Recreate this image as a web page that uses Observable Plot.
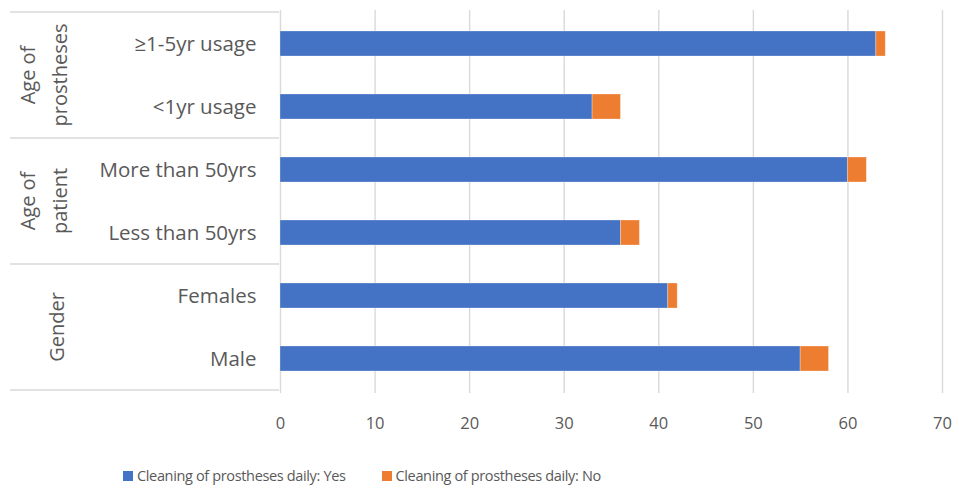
<!DOCTYPE html>
<html>
<head>
<meta charset="utf-8">
<script src="https://cdn.jsdelivr.net/npm/d3@7"></script>
<script src="https://cdn.jsdelivr.net/npm/@observablehq/plot@0.6"></script>
<style>
  body { margin: 0; background: #fff; font-family: "Open Sans", sans-serif; }
  #wrap { position: relative; width: 959px; height: 493px; }
  #legend { position: absolute; left: 123px; top: 466px; display: flex; align-items: center; font-family: "Open Sans", sans-serif; font-size: 14.5px; letter-spacing: -0.35px; color: #595959; white-space: nowrap; }
  .sw { display: inline-block; width: 10px; height: 10px; margin-right: 4px; }
  .item { display: flex; align-items: center; }
</style>
</head>
<body>
<div id="wrap"></div>
<script>
const categories = ["≥1-5yr usage", "<1yr usage", "More than 50yrs", "Less than 50yrs", "Females", "Male"];
const yesValues = [63, 33, 60, 36, 41, 55];
const noValues = [1, 3, 2, 2, 1, 3];
const seriesNames = ["Cleaning of prostheses daily: Yes", "Cleaning of prostheses daily: No"];
const seriesColors = ["#4472C4", "#ED7D31"];
const groupLabels = [["Age of", "prostheses"], ["Age of", "patient"], ["Gender"]];
const groupMembers = [["≥1-5yr usage", "<1yr usage"], ["More than 50yrs", "Less than 50yrs"], ["Females", "Male"]];
const xTicks = [0, 10, 20, 30, 40, 50, 60, 70];

const rows = [];
categories.forEach((c, i) => rows.push({category: c, series: seriesNames[0], value: yesValues[i]}));
categories.forEach((c, i) => rows.push({category: c, series: seriesNames[1], value: noValues[i]}));

const plot = Plot.plot({
  width: 959,
  height: 450,
  marginLeft: 280,
  marginRight: 17,
  marginTop: 10,
  marginBottom: 57,
  style: {fontFamily: "Open Sans, sans-serif", color: "#595959", background: "#fff"},
  x: {domain: [0, 70], ticks: xTicks, label: null},
  y: {domain: categories, paddingInner: 0.6, paddingOuter: 0.3, label: null},
  color: {domain: seriesNames, range: seriesColors},
  marks: [
    Plot.gridX(xTicks, {stroke: "#d9d9d9", strokeOpacity: 1, strokeWidth: 1.4}),
    Plot.barX(rows, {x: "value", y: "category", fill: "series", stroke: "#ffffff", strokeOpacity: 0.35, strokeWidth: 0.8}),
    Plot.axisX(xTicks, {tickSize: 0, tickPadding: 24, fontSize: 16.5, fill: "#595959", label: null}),
    Plot.axisY({tickSize: 0, tickPadding: 24, fontSize: 20.5, fill: "#595959", label: null})
  ]
});
document.getElementById("wrap").appendChild(plot);

// group separators and labels (positions from the plot's y scale)
const ys = plot.scale("y");
const svg = d3.select(plot);
const gap = ys.step - ys.bandwidth;
const boundaries = [];
const gLayer = svg.append("g");
groupMembers.forEach((members, gi) => {
  const top = ys.apply(members[0]) - gap / 2;
  const bottom = ys.apply(members[members.length - 1]) + ys.bandwidth + gap / 2;
  if (gi === 0) boundaries.push(top);
  boundaries.push(bottom);
  const cy = (top + bottom) / 2;
  const lines = groupLabels[gi];
  const baseX = lines.length === 2 ? 35 : 64;
  const t = gLayer.append("text")
    .attr("transform", `translate(${baseX},${cy}) rotate(-90)`)
    .attr("text-anchor", "middle")
    .attr("fill", "#595959")
    .attr("font-size", 20)
    .attr("font-family", "Open Sans, sans-serif");
  lines.forEach((ln, li) => {
    t.append("tspan").attr("x", 0).attr("dy", li === 0 ? 0 : 32).text(ln);
  });
});
boundaries.forEach(b => {
  gLayer.append("line").attr("x1", 10).attr("x2", 279).attr("y1", b).attr("y2", b)
    .attr("stroke", "#d9d9d9").attr("stroke-width", 1.4);
});

// legend
const legend = document.createElement("div");
legend.id = "legend";
seriesNames.forEach((s, i) => {
  const item = document.createElement("span");
  item.className = "item";
  if (i > 0) item.style.marginLeft = "36px";
  const sw = document.createElement("span");
  sw.className = "sw";
  sw.style.background = seriesColors[i];
  item.appendChild(sw);
  item.appendChild(document.createTextNode(s));
  legend.appendChild(item);
});
document.getElementById("wrap").appendChild(legend);
</script>
</body>
</html>
